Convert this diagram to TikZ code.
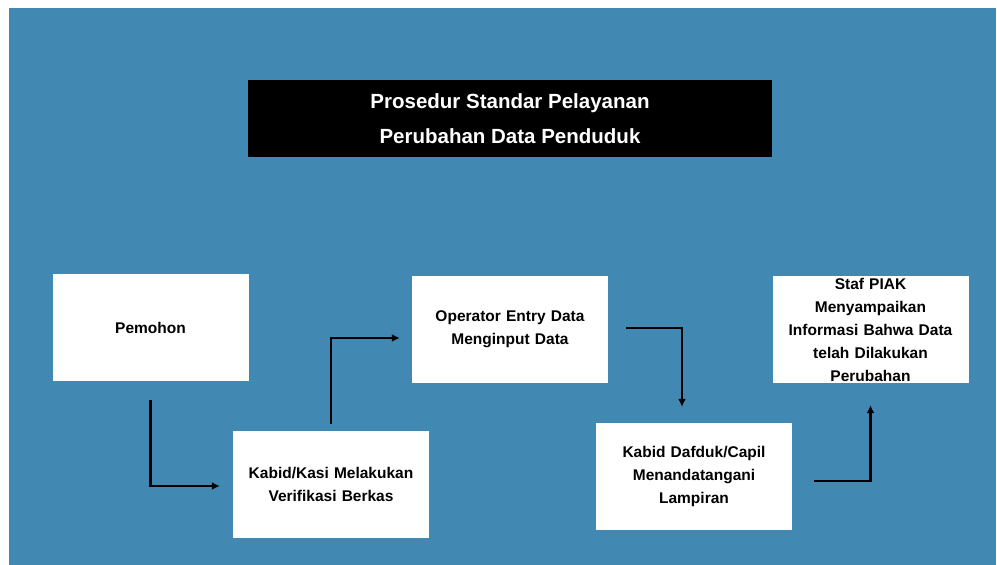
\documentclass[tikz,border=0pt]{standalone}
\usepackage{fontspec}
\setmainfont{Liberation Sans}
\usetikzlibrary{arrows.meta}

\definecolor{bgblue}{RGB}{65,137,178}

\begin{document}
\begin{tikzpicture}[x=1pt,y=-1pt,
	arrow/.style={-{Latex[length=8pt,width=8pt]}, line width=2.2pt},
	box/.style={fill=white, minimum width=196pt, minimum height=107pt, inner ysep=0pt, text width=186pt, align=center, font=\bfseries\fontsize{15.5}{23}\selectfont}]
\useasboundingbox (0,0) rectangle (997,565);
\fill[white] (0,0) rectangle (997,565);
\fill[bgblue] (9,8) rectangle (996,565);

\node[fill=black, text=white, minimum width=524pt, minimum height=77pt, align=center, font=\bfseries\fontsize{20.5}{35}\selectfont] (title) at (510,118.5) {Prosedur Standar Pelayanan\\Perubahan Data Penduduk};

\node[box] (pemohon) at (150.5,327.5) {Pemohon};
\node[box] (verif) at (331,484.5) {Kabid/Kasi Melakukan\\Verifikasi Berkas};
\node[box] (operator) at (510,329.5) {Operator Entry Data\\Menginput Data};
\node[box] (dafduk) at (694,476.5) {Kabid Dafduk/Capil\\Menandatangani\\Lampiran};
\node[box] (staf) at (870.5,329.5) {Staf PIAK\\Menyampaikan\\Informasi Bahwa Data\\telah Dilakukan\\Perubahan};

\draw [arrow] ([yshift=-19pt]pemohon.south) |- ([xshift=-13pt,yshift=-1.5pt]verif.west);
\draw [arrow] ([yshift=7pt]verif.north) |- ([xshift=-12pt,yshift=-8.5pt]operator.west);
\draw [arrow] ([xshift=18pt,yshift=1.5pt]operator.east) -| ([xshift=-12pt,yshift=16pt]dafduk.north);
\draw [arrow] ([xshift=22pt,yshift=-4.5pt]dafduk.east) -| ([yshift=-22pt]staf.south);
\end{tikzpicture}
\end{document}
